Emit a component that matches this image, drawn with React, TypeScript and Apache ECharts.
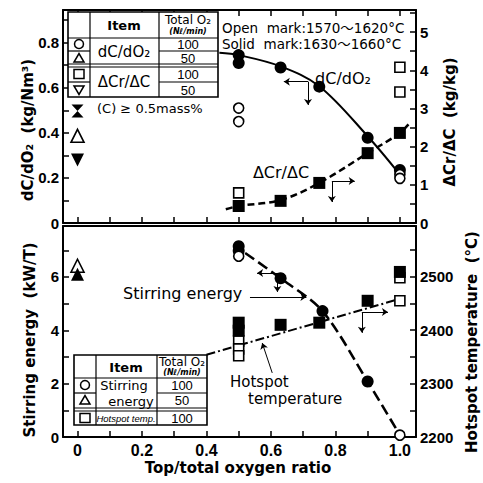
import React, { useEffect, useRef } from "react";
import * as echarts from "echarts";

// ---------- axis ticks / labels ----------
const xTickValues = [0, 0.1, 0.2, 0.3, 0.4, 0.5, 0.6, 0.7, 0.8, 0.9, 1.0];
const xLabelValues = [0, 0.2, 0.4, 0.6, 0.8, 1.0];
const dcTickValues = [0, 0.1, 0.2, 0.3, 0.4, 0.5, 0.6, 0.7, 0.8, 0.9];
const dcLabelValues = [0, 0.2, 0.4, 0.6, 0.8];
const crTickValues = [0, 0.5, 1, 1.5, 2, 2.5, 3, 3.5, 4, 4.5, 5, 5.5];
const crLabelValues = [0, 1, 2, 3, 4, 5];
const stirTickValues = [0, 1, 2, 3, 4, 5, 6, 7];
const stirLabelValues = [0, 2, 4, 6];
const hotTickValues = [2200, 2250, 2300, 2350, 2400, 2450, 2500, 2550];
const hotLabelValues = [2200, 2300, 2400, 2500];

// ---------- top panel data ----------
const dcSolidX = [0.5, 0.5, 0.63, 0.75, 0.9, 1.0];
const dcSolidY = [0.745, 0.71, 0.69, 0.605, 0.378, 0.235];
const dcOpenX = [0.5, 0.5, 1.0, 1.0];
const dcOpenY = [0.51, 0.45, 0.215, 0.198];
const dcHalfOpenX = [0];
const dcHalfOpenY = [0.387];
const highCarbonX = [0];
const highCarbonY = [0.497];
const dcCurveX = [0.44, 0.5, 0.63, 0.75, 0.9, 1.0];
const dcCurveY = [0.755, 0.745, 0.695, 0.607, 0.385, 0.215];

const crSolidX = [0.5, 0.63, 0.75, 0.9, 1.0];
const crSolidY = [0.445, 0.58, 1.05, 1.83, 2.36];
const crOpenX = [0.5, 1.0, 1.0];
const crOpenY = [0.79, 4.08, 3.43];
const crHalfSolidX = [0];
const crHalfSolidY = [1.65];
const crCurveX = [0.46, 0.5, 0.63, 0.75, 0.9, 1.0, 1.03];
const crCurveY = [0.36, 0.445, 0.6, 1.05, 1.83, 2.36, 2.62];

// ---------- bottom panel data ----------
const stirSolidX = [0.5, 0.5, 0.63, 0.76, 0.9];
const stirSolidY = [7.15, 6.98, 5.95, 4.72, 2.08];
const stirOpenX = [0.5, 1.0];
const stirOpenY = [6.78, 0.07];
const stirHalfSolidX = [0];
const stirHalfSolidY = [6.1];
const stirHalfOpenX = [0];
const stirHalfOpenY = [6.42];
const stirCurveX = [0.52, 0.63, 0.76, 0.9, 1.0];
const stirCurveY = [6.9, 5.95, 4.72, 2.08, 0.07];

const hotSolidX = [0.5, 0.5, 0.63, 0.75, 0.9, 1.0];
const hotSolidY = [2414, 2399, 2410, 2414, 2455, 2509];
const hotOpenX = [0.5, 0.5, 0.5, 1.0, 1.0];
const hotOpenY = [2380, 2365, 2352, 2455, 2498];
const hotLineX = [0.4, 0.985];
const hotLineY = [2354, 2456];

// ---------- annotation arrows (data coords) ----------
const arrowsDc = [
  [[0.715, 0.627], [0.64, 0.627]],
  [[0.715, 0.627], [0.715, 0.524]],
];
const arrowsCr = [
  [[0.789, 1.1], [0.86, 1.1]],
  [[0.789, 1.1], [0.789, 0.55]],
];
const arrowsStir = [
  [[0.62, 6.15], [0.557, 6.15]],
  [[0.62, 6.15], [0.62, 5.44]],
  [[0.535, 5.25], [0.71, 5.25]],
];
const arrowsHot = [
  [[0.882, 2434], [0.963, 2434]],
  [[0.882, 2434], [0.882, 2395]],
  [[0.604, 2320], [0.573, 2376]],
];

const pairs = (xs: number[], ys: number[]) => xs.map((x, i) => [x, ys[i]]);

const NUM_FONT = "Liberation Sans";
const TXT_FONT = "DejaVu Sans, Noto Sans CJK JP";

function valueAxis(
  gridIndex: number,
  position: string,
  min: number,
  max: number,
  labels: number[],
  ticks: number[],
  fmt: (v: number) => string
) {
  return {
    type: "value",
    gridIndex,
    position,
    min,
    max,
    splitLine: { show: false },
    axisLine: { show: true, onZero: false, lineStyle: { color: "#000", width: 2 } },
    axisTick: {
      show: ticks.length > 0,
      inside: true,
      length: 6,
      customValues: ticks,
      lineStyle: { color: "#000", width: 1.5 },
    },
    axisLabel: {
      show: labels.length > 0,
      customValues: labels,
      formatter: fmt,
      color: "#000",
      fontFamily: NUM_FONT,
      fontWeight: "bold",
      fontSize: 15,
      margin: 4,
    },
  };
}

const fmtDec = (v: number) => (Math.abs(v) < 1e-9 ? "0" : v.toFixed(1));
const fmtInt = (v: number) => String(Math.round(v));

const openStyle = { color: "#fff", borderColor: "#000", borderWidth: 1.6, opacity: 1 };
const solidStyle = { color: "#000", borderColor: "#000", borderWidth: 0, opacity: 1 };

function scatter(
  name: string,
  xi: number,
  yi: number,
  data: number[][],
  symbol: string,
  size: number | number[],
  style: any,
  rotate = 0
) {
  return {
    name,
    type: "scatter",
    xAxisIndex: xi,
    yAxisIndex: yi,
    data,
    symbol,
    symbolSize: size,
    symbolRotate: rotate,
    itemStyle: style,
    emphasis: { disabled: true },
    clip: false,
    z: 5,
  };
}

function curve(name: string, xi: number, yi: number, data: number[][], lineType: any, width: number, smooth: any) {
  return {
    name,
    type: "line",
    xAxisIndex: xi,
    yAxisIndex: yi,
    data,
    showSymbol: false,
    symbol: "none",
    smooth,
    lineStyle: { color: "#000", width, type: lineType, opacity: 1 },
    clip: false,
    z: 3,
  };
}

function arrows(name: string, xi: number, yi: number, segs: number[][][]) {
  return {
    name,
    type: "lines",
    coordinateSystem: "cartesian2d",
    xAxisIndex: xi,
    yAxisIndex: yi,
    symbol: ["none", "arrow"],
    symbolSize: 6,
    lineStyle: { color: "#000", width: 1, opacity: 1 },
    data: segs.map((c) => ({ coords: c })),
    z: 4,
  };
}

// ---------- graphic helpers ----------
const txt = (text: string, x: number, y: number, font: string, extra: any = {}) => ({
  type: "text",
  x,
  y,
  z: 100,
  style: { text, fill: "#000", font, align: "center", verticalAlign: "middle", ...extra },
});
const ln = (x1: number, y1: number, x2: number, y2: number, w = 1.2) => ({
  type: "line",
  z: 100,
  shape: { x1, y1, x2, y2 },
  style: { stroke: "#000", lineWidth: w },
});
const openCircle = (cx: number, cy: number) => ({
  type: "circle",
  z: 100,
  shape: { cx, cy, r: 4.5 },
  style: { fill: "#fff", stroke: "#000", lineWidth: 1.5 },
});
const openTri = (cx: number, cy: number, down = false) => ({
  type: "polygon",
  z: 100,
  shape: {
    points: down
      ? [[cx - 5, cy - 4], [cx + 5, cy - 4], [cx, cy + 4.5]]
      : [[cx - 5, cy + 4], [cx + 5, cy + 4], [cx, cy - 4.5]],
  },
  style: { fill: "#fff", stroke: "#000", lineWidth: 1.5 },
});
const openSq = (cx: number, cy: number) => ({
  type: "rect",
  z: 100,
  shape: { x: cx - 5, y: cy - 4.5, width: 10, height: 9 },
  style: { fill: "#fff", stroke: "#000", lineWidth: 1.5 },
});

function topTable() {
  const L = 68, R = 218, T = 12, B = 97, c1 = 90, c2 = 159;
  return [
    { type: "rect", z: 99, shape: { x: L, y: T, width: R - L, height: B - T }, style: { fill: "#fff", stroke: "#000", lineWidth: 1.6 } },
    ln(c1, T, c1, B),
    ln(c2, T, c2, B),
    ln(L, 38, R, 38),
    ln(L, 51, c1, 51),
    ln(c2, 51, R, 51),
    ln(L, 64, R, 64),
    ln(L, 67, R, 67),
    ln(L, 82, c1, 82),
    ln(c2, 82, R, 82),
    txt("Item", 124, 25, `bold 13px ${TXT_FONT}`),
    txt("Total O₂", 188, 20, `12px ${TXT_FONT}`),
    txt("(Nℓ/min)", 188, 31, `italic bold 8px ${TXT_FONT}`),
    txt("dC/dO₂", 124, 52, `15px ${TXT_FONT}`),
    txt("ΔCr/ΔC", 124, 82, `15px ${TXT_FONT}`),
    txt("100", 188, 44, `13px ${NUM_FONT}`),
    txt("50", 188, 58, `13px ${NUM_FONT}`),
    txt("100", 188, 74, `13px ${NUM_FONT}`),
    txt("50", 188, 90, `13px ${NUM_FONT}`),
    openCircle(79, 44),
    openTri(79, 58),
    openSq(79, 74),
    openTri(79, 90, true),
  ];
}

function bottomTable() {
  const L = 74, R = 207, T = 355, B = 425, c1 = 96, c2 = 157;
  return [
    { type: "rect", z: 99, shape: { x: L, y: T, width: R - L, height: B - T }, style: { fill: "#fff", stroke: "#000", lineWidth: 1.6 } },
    ln(c1, T, c1, B),
    ln(c2, T, c2, B),
    ln(L, 378, R, 378),
    ln(L, 393, c1, 393),
    ln(c2, 393, R, 393),
    ln(L, 408, R, 408),
    ln(L, 411, R, 411),
    txt("Item", 126, 367, `bold 13px ${TXT_FONT}`),
    txt("Total O₂", 182, 362, `12px ${TXT_FONT}`),
    txt("(Nℓ/min)", 182, 372, `italic bold 8px ${TXT_FONT}`),
    txt("Stirring", 124, 385, `13px ${TXT_FONT}`),
    txt("energy", 131, 401, `13px ${TXT_FONT}`),
    txt("Hotspot temp.", 126, 418, `italic 9.5px ${NUM_FONT}`),
    txt("100", 182, 385, `13px ${NUM_FONT}`),
    txt("50", 182, 400, `13px ${NUM_FONT}`),
    txt("100", 182, 418, `13px ${NUM_FONT}`),
    openCircle(85, 385),
    openTri(85, 400),
    openSq(85, 418),
  ];
}

const HOURGLASS = "path://M0,0L10,0L5,5L10,10L0,10L5,5Z";

export default function App() {
  const ref = useRef<HTMLDivElement>(null);

  useEffect(() => {
    if (!ref.current) return;
    const chart = echarts.init(ref.current, null, { renderer: "svg" });

    const xAxisBase = (gridIndex: number, position: string, ticks: number[], labels: number[], showLine = true) => ({
      type: "value",
      gridIndex,
      position,
      min: -0.045,
      max: 1.05,
      splitLine: { show: false },
      axisLine: { show: showLine, onZero: false, lineStyle: { color: "#000", width: 2 } },
      axisTick: { show: ticks.length > 0, inside: true, length: 6, customValues: ticks, lineStyle: { color: "#000", width: 1.5 } },
      axisLabel: {
        show: labels.length > 0,
        customValues: labels,
        formatter: fmtDec,
        color: "#000",
        fontFamily: NUM_FONT,
        fontWeight: "bold",
        fontSize: 16,
        margin: 5,
      },
    });

    const option: any = {
      animation: false,
      backgroundColor: "#fff",
      grid: [
        { left: 63, right: 67, top: 10, height: 213 },
        { left: 63, right: 67, top: 226, height: 211 },
      ],
      xAxis: [
        xAxisBase(0, "bottom", xTickValues, []),
        xAxisBase(0, "top", xTickValues, []),
        xAxisBase(1, "bottom", xTickValues, xLabelValues),
        xAxisBase(1, "top", [], []),
      ],
      yAxis: [
        valueAxis(0, "left", 0, 0.945, dcLabelValues, dcTickValues, fmtDec),
        valueAxis(0, "right", 0, 5.58, crLabelValues, crTickValues, fmtInt),
        valueAxis(1, "left", 0, 7.91, stirLabelValues, stirTickValues, fmtInt),
        valueAxis(1, "right", 2200, 2595, hotLabelValues, hotTickValues, fmtInt),
      ],
      series: [
        // top panel curves
        curve("dC/dO2 fit", 0, 0, pairs(dcCurveX, dcCurveY), "solid", 2, 0.35),
        curve("dCr/dC fit", 0, 1, pairs(crCurveX, crCurveY), [7, 4], 2.5, 0.35),
        // top panel markers
        scatter("dC/dO2 solid", 0, 0, pairs(dcSolidX, dcSolidY), "circle", 12, solidStyle),
        scatter("dC/dO2 open", 0, 0, pairs(dcOpenX, dcOpenY), "circle", 10, openStyle),
        scatter("dC/dO2 50 open", 0, 0, pairs(dcHalfOpenX, dcHalfOpenY), "triangle", 13, openStyle),
        scatter("(C)>=0.5mass%", 0, 0, pairs(highCarbonX, highCarbonY), HOURGLASS, [12, 13], solidStyle),
        scatter("dCr/dC solid", 0, 1, pairs(crSolidX, crSolidY), "rect", 12, solidStyle),
        scatter("dCr/dC open", 0, 1, pairs(crOpenX, crOpenY), "rect", 10, openStyle),
        scatter("dCr/dC 50 solid", 0, 1, pairs(crHalfSolidX, crHalfSolidY), "triangle", 13, solidStyle, 180),
        arrows("dc arrows", 0, 0, arrowsDc),
        arrows("cr arrows", 0, 1, arrowsCr),
        // bottom panel curves
        curve("stirring fit", 2, 2, pairs(stirCurveX, stirCurveY), [11, 5], 2.6, 0.3),
        curve("hotspot fit", 2, 3, pairs(hotLineX, hotLineY), [9, 3, 2, 3], 2, false),
        // bottom panel markers
        scatter("stir solid", 2, 2, pairs(stirSolidX, stirSolidY), "circle", 12, solidStyle),
        scatter("stir open", 2, 2, pairs(stirOpenX, stirOpenY), "circle", 10, openStyle),
        scatter("stir 50 open", 2, 2, pairs(stirHalfOpenX, stirHalfOpenY), "triangle", 13, openStyle),
        scatter("stir 50 solid", 2, 2, pairs(stirHalfSolidX, stirHalfSolidY), "triangle", 13, solidStyle),
        scatter("hot open", 2, 3, pairs(hotOpenX, hotOpenY), "rect", 10, openStyle),
        scatter("hot solid", 2, 3, pairs(hotSolidX, hotSolidY), "rect", 12, solidStyle),
        arrows("stir arrows", 2, 2, arrowsStir),
        arrows("hot arrows", 2, 3, arrowsHot),
      ],
      graphic: [
        ...topTable(),
        ...bottomTable(),
        txt("(C) ≥ 0.5mass%", 97, 108, `13px ${TXT_FONT}`, { align: "left" }),
        txt("Open  mark:1570〜1620°C", 222, 28, `13.5px ${TXT_FONT}`, { align: "left" }),
        txt("Solid  mark:1630〜1660°C", 222, 44, `13.5px ${TXT_FONT}`, { align: "left" }),
        txt("dC/dO₂", 343, 78, `16px ${TXT_FONT}`),
        txt("ΔCr/ΔC", 281, 172, `16px ${TXT_FONT}`),
        txt("Stirring energy", 123, 293, `16px ${TXT_FONT}`, { align: "left" }),
        txt("Hotspot", 230, 382, `15px ${TXT_FONT}`, { align: "left" }),
        txt("temperature", 248, 399, `15px ${TXT_FONT}`, { align: "left" }),
        // axis names
        { ...txt("dC/dO₂  (kg/Nm³)", 28, 130, `bold 15px ${TXT_FONT}`), rotation: Math.PI / 2 },
        { ...txt("ΔCr/ΔC  (kg/kg)", 450, 122, `bold 15px ${TXT_FONT}`), rotation: Math.PI / 2 },
        { ...txt("Stirring energy  (kW/T)", 30, 340, `bold 15px ${TXT_FONT}`), rotation: Math.PI / 2 },
        { ...txt("Hotspot temperature  (°C)", 472, 342, `bold 15px ${TXT_FONT}`), rotation: Math.PI / 2 },
        txt("Top/total oxygen ratio", 238, 468, `bold 15px ${TXT_FONT}`),
      ],
    };

    chart.setOption(option);
    return () => chart.dispose();
  }, []);

  return (
    <div
      ref={ref}
      style={{ position: "absolute", left: 0, top: 0, width: 483, height: 483, background: "#fff" }}
    />
  );
}
